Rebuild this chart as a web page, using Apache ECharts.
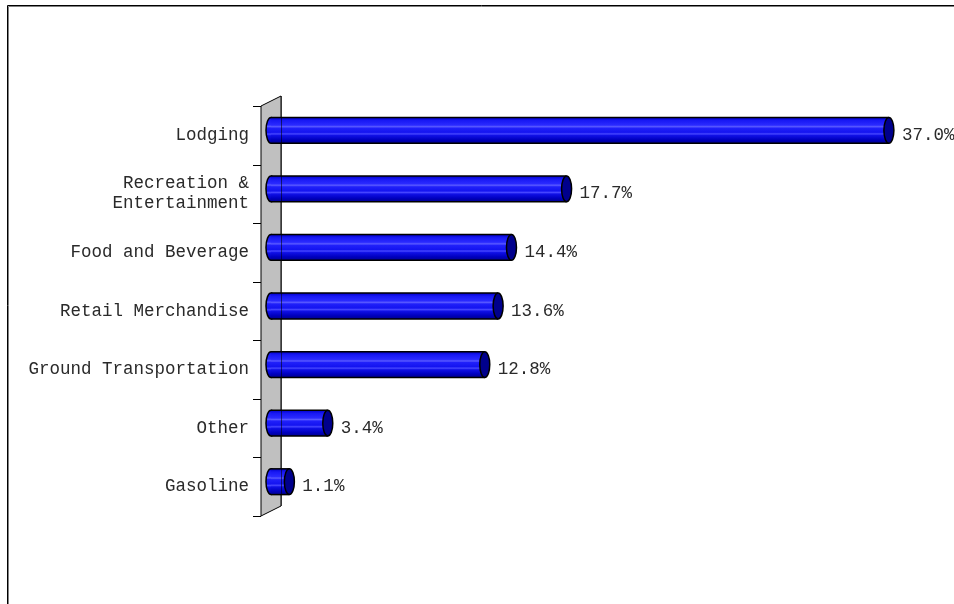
<!DOCTYPE html>
<html>
<head>
<meta charset="utf-8">
<script src="https://cdn.jsdelivr.net/npm/echarts@6/dist/echarts.min.js"></script>
<style>
  html, body { margin: 0; padding: 0; background: #fff; }
  #chart { width: 954px; height: 604px; }
</style>
</head>
<body>
<div id="chart"></div>
<script>
// Spending categories, top to bottom
const categories = [
  'Lodging',
  'Recreation &\nEntertainment',
  'Food and Beverage',
  'Retail Merchandise',
  'Ground Transportation',
  'Other',
  'Gasoline'
];
// Share of spending, percent
const shares = [37.0, 17.7, 14.4, 13.6, 12.8, 3.4, 1.1];

// Plot layout: the grid is the front face of the 3D wall; bars sit at mid-depth
const GRID = { left: 271, top: 106, width: 668, height: 410 };
const DEPTH = { dx: 10, dy: 5 };   // half the wall thickness, in x and y
const FONT_FAMILY = '"Liberation Mono", "Courier New", monospace';
const FONT_SIZE = 17.5;
const TEXT_COLOR = '#2a2a2a';

const chart = echarts.init(document.getElementById('chart'), null, { renderer: 'canvas' });

function renderCylinder(params, api) {
  const idx = api.value(0);
  const v = api.value(1);
  const p0 = api.coord([0, idx]);
  const p1 = api.coord([v, idx]);
  const h = api.size([0, 1])[1] * 0.44;
  const ry = h / 2;
  const rx = 5;
  const y = p0[1] - DEPTH.dy;
  const body = new echarts.graphic.LinearGradient(0, 0, 0, 1, [
    { offset: 0.00, color: '#0000c8' },
    { offset: 0.12, color: '#1818f4' },
    { offset: 0.30, color: '#2a2aff' },
    { offset: 0.36, color: '#5a5aff' },
    { offset: 0.42, color: '#2020fa' },
    { offset: 0.58, color: '#1414f0' },
    { offset: 0.64, color: '#4646ff' },
    { offset: 0.70, color: '#1010e6' },
    { offset: 0.86, color: '#0000c0' },
    { offset: 1.00, color: '#000090' }
  ]);
  return {
    type: 'group',
    children: [
      { type: 'ellipse', shape: { cx: p0[0], cy: y, rx: rx, ry: ry },
        style: { fill: body, stroke: '#000', lineWidth: 1.5 } },
      { type: 'rect', shape: { x: p0[0], y: y - ry, width: p1[0] - p0[0], height: h },
        style: { fill: body } },
      { type: 'line', shape: { x1: p0[0], y1: y - ry, x2: p1[0], y2: y - ry },
        style: { stroke: '#000', lineWidth: 1.5 } },
      { type: 'line', shape: { x1: p0[0], y1: y + ry, x2: p1[0], y2: y + ry },
        style: { stroke: '#000', lineWidth: 1.5 } },
      { type: 'ellipse', shape: { cx: p1[0], cy: y, rx: rx, ry: ry },
        style: { fill: '#00008c', stroke: '#000', lineWidth: 1.5 } },
      { type: 'text',
        style: { x: p1[0] + 13, y: y + 5, text: v.toFixed(1) + '%',
                 fontFamily: FONT_FAMILY, fontSize: FONT_SIZE, fill: TEXT_COLOR,
                 align: 'left', verticalAlign: 'middle' } }
    ]
  };
}

chart.setOption({
  animation: false,
  backgroundColor: '#fff',
  grid: { left: GRID.left, top: GRID.top, width: GRID.width, height: GRID.height, containLabel: false },
  xAxis: {
    type: 'value', min: 0, max: 40,
    show: false
  },
  yAxis: {
    type: 'category',
    data: categories,
    inverse: true,
    axisLine: { show: false },
    axisTick: { show: false },
    splitLine: { show: false },
    axisLabel: {
      margin: 22,
      fontFamily: FONT_FAMILY,
      fontSize: FONT_SIZE,
      color: TEXT_COLOR,
      lineHeight: 20
    }
  },
  series: [{
    type: 'custom',
    renderItem: renderCylinder,
    encode: { x: 1, y: 0 },
    data: shares.map((v, i) => [i, v]),
    z: 5
  }]
});

// 3D wall behind the bars, its tick marks and the outer frame
const band = GRID.height / categories.length;
const frontX = GRID.left - DEPTH.dx;
const backX = GRID.left + DEPTH.dx;
const topFront = GRID.top;
const topBack = GRID.top - 2 * DEPTH.dy;
const botFront = GRID.top + GRID.height;
const botBack = GRID.top + GRID.height - 2 * DEPTH.dy;

const graphics = [
  { type: 'rect', z: 0, shape: { x: 7.5, y: 5.5, width: 2000, height: 2000 },
    style: { fill: null, stroke: '#000', lineWidth: 1 } },
  { type: 'rect', z: 0, shape: { x: 8.5, y: 6.5, width: 2000, height: 2000 },
    style: { fill: null, stroke: '#808080', lineWidth: 1 } },
  { type: 'polygon', z: 1,
    shape: { points: [[frontX, topFront], [backX, topBack], [backX, botBack], [frontX, botFront]] },
    style: { fill: '#c0c0c0', stroke: '#000', lineWidth: 1 } },
  { type: 'line', z: 10,
    shape: { x1: backX + 0.5, y1: topBack, x2: backX + 0.5, y2: botBack },
    style: { stroke: 'rgba(0,0,0,0.55)', lineWidth: 1 } }
];
for (let k = 0; k <= categories.length; k++) {
  const ty = Math.round(topFront + k * band) + 0.5;
  graphics.push({ type: 'line', z: 1,
    shape: { x1: frontX - 8, y1: ty, x2: frontX, y2: ty },
    style: { stroke: '#000', lineWidth: 1 } });
}
chart.setOption({ graphic: graphics });
</script>
</body>
</html>
